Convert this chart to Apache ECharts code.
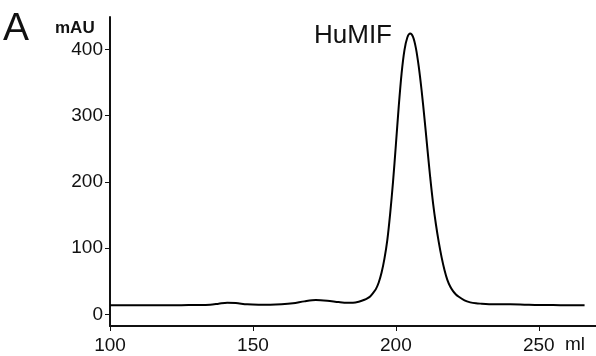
<!DOCTYPE html>
<html>
<head>
<meta charset="utf-8">
<script src="https://cdn.jsdelivr.net/npm/echarts@6/dist/echarts.min.js"></script>
<style>
html,body{margin:0;padding:0;background:#fff;}
#chart{width:596px;height:356px;}
</style>
</head>
<body>
<div id="chart"></div>
<script>
// Elution volume (ml)
var volumes = [100, 105, 110, 115, 120, 125, 130, 135, 138, 141, 144, 148, 152, 156, 160, 164, 168, 172, 176, 180, 183, 185, 187, 189, 190, 191, 192, 193, 194, 195, 196, 197, 198, 199, 200, 201, 202, 203, 204, 205, 206, 207, 208, 209, 210, 211, 212, 213, 214, 215, 216, 217, 218, 219, 220, 221, 222, 224, 226, 228, 230, 235, 240, 245, 250, 255, 260, 266];
// Absorbance (mAU)
var absorbance = [13.5, 13.5, 13.5, 13.5, 13.5, 13.8, 14, 14.5, 16, 17.5, 17, 15, 14.5, 14.5, 15, 16.5, 19.5, 21.5, 20.5, 18.5, 17.5, 17.5, 19, 22, 24, 27, 32, 38, 48, 63, 84, 112, 152, 200, 256, 314, 364, 399, 418, 424, 419, 402, 374, 338, 296, 251, 207, 168, 136, 109, 86, 67, 52, 42, 35, 30, 26.5, 21, 18, 16.5, 16, 15, 15, 14.5, 14, 14, 13.5, 13.5];
var xTicks = [100, 150, 200, 250];
var yTicks = [0, 100, 200, 300, 400];

var points = volumes.map(function (v, i) { return [v, absorbance[i]]; });

var chart = echarts.init(document.getElementById('chart'), null, {renderer: 'canvas'});
var font = '"Liberation Sans", Arial, Helvetica, sans-serif';
chart.setOption({
  animation: false,
  backgroundColor: '#fff',
  grid: {left: 110, right: 0, top: 17, bottom: 30, containLabel: false},
  xAxis: {
    type: 'value', min: 100, max: 270,
    axisLine: {show: true, onZero: false, lineStyle: {color: '#111', width: 2}},
    axisTick: {show: true, length: 5, inside: false, customValues: xTicks, lineStyle: {color: '#111', width: 1}},
    axisLabel: {customValues: xTicks, margin: 10, color: '#111', fontSize: 19, fontFamily: font},
    splitLine: {show: false}
  },
  yAxis: {
    type: 'value', min: -17.7, max: 449,
    axisLine: {show: true, onZero: false, lineStyle: {color: '#111', width: 2}},
    axisTick: {show: true, length: 5, inside: false, customValues: yTicks, lineStyle: {color: '#111', width: 1}},
    axisLabel: {customValues: yTicks, margin: 7, color: '#111', fontSize: 19, fontFamily: font},
    splitLine: {show: false}
  },
  series: [{
    type: 'line', data: points, smooth: 0.3, showSymbol: false,
    lineStyle: {color: '#000', width: 2}
  }],
  graphic: [
    {type: 'text', x: 3, y: 29, style: {text: 'A', font: '39px ' + font, fill: '#111', verticalAlign: 'middle'}},
    {type: 'text', x: 55, y: 28.5, style: {text: 'mAU', font: 'bold 17px ' + font, fill: '#111', verticalAlign: 'middle'}},
    {type: 'text', x: 314, y: 36, style: {text: 'HuMIF', font: '26px ' + font, fill: '#111', verticalAlign: 'middle'}},
    {type: 'text', x: 565, y: 345, style: {text: 'ml', font: '19px ' + font, fill: '#111', verticalAlign: 'middle'}}
  ]
});
</script>
</body>
</html>
